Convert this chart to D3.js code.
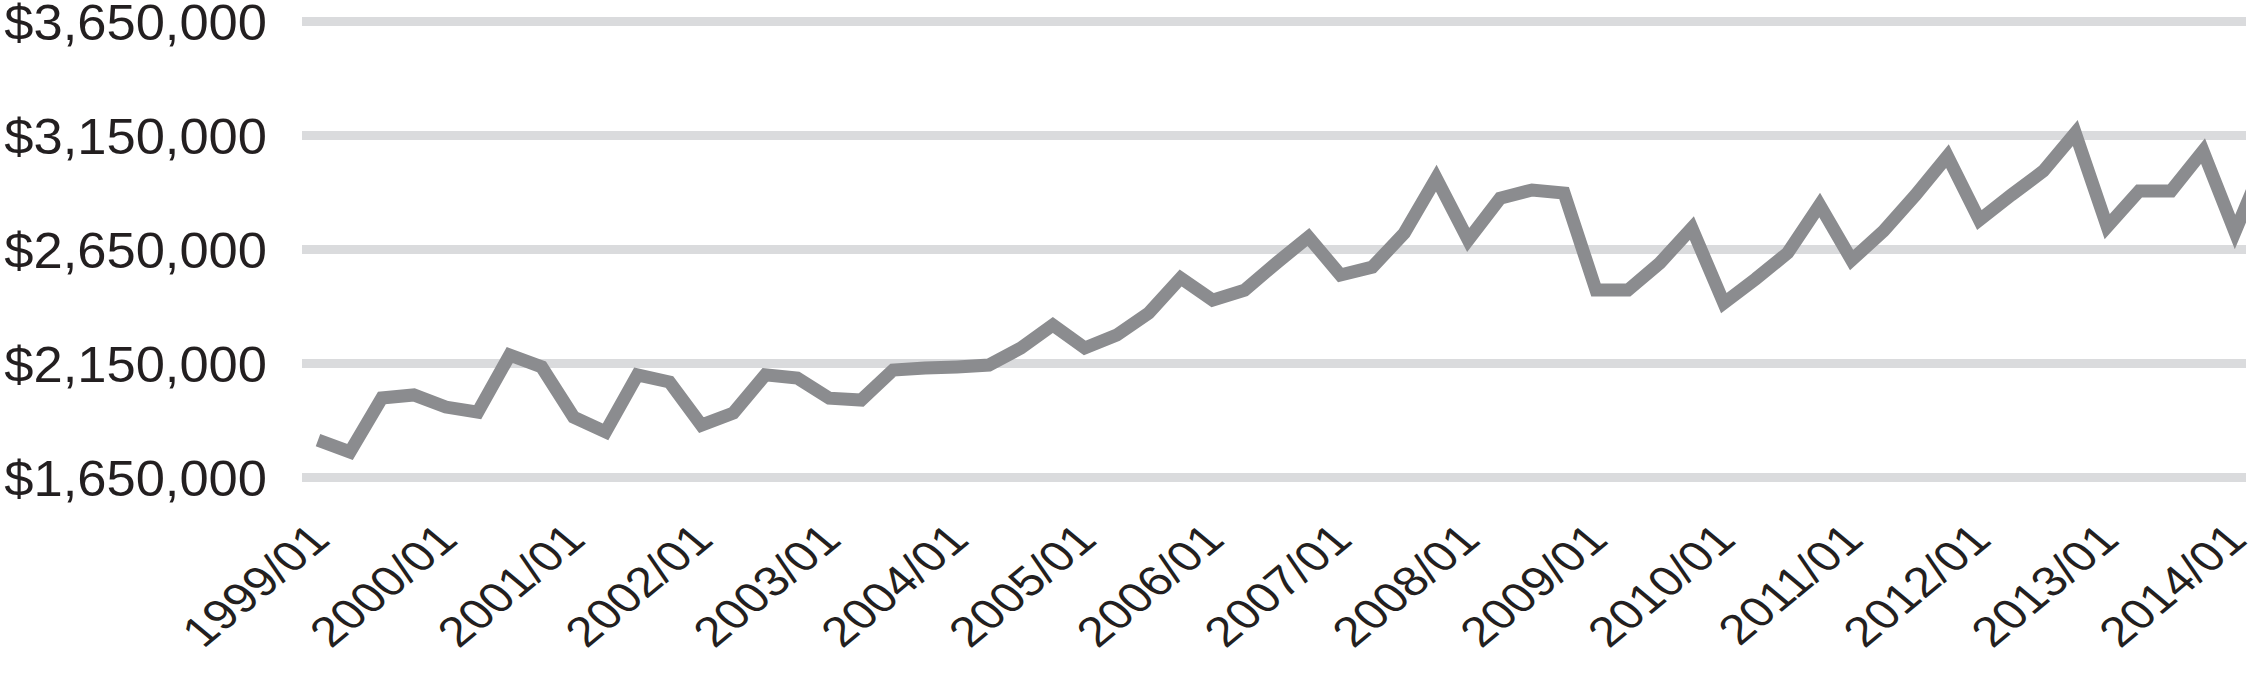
<!DOCTYPE html>
<html>
    <head>
        <title>Quarterly value 1999-2014</title>
        <meta charset="UTF-8">
        <script src="https://cdnjs.cloudflare.com/ajax/libs/d3/7.9.0/d3.min.js"></script>
        <style>
            html, body {
                margin: 0;
                padding: 0;
                background: #fff;
                font-family: "Liberation Sans", Arial, Helvetica, sans-serif;
            }
            .chart {
                width: 2266px;
                height: 690px;
            }
        </style>
    </head>
    <body>
        <div class="chart"></div>
        <script>
            // quarterly values, 1999 Q1 .. 2014 Q2 (last one runs off the plot)
            let values = [
                1814000, 1762000, 1999000, 2012000,
                1959000, 1937000, 2187000, 2135000,
                1915000, 1850000, 2100000, 2069000,
                1880000, 1933000, 2100000, 2086000,
                1998000, 1990000, 2121000, 2130000,
                2135000, 2143000, 2218000, 2319000,
                2218000, 2275000, 2371000, 2525000,
                2428000, 2472000, 2591000, 2705000,
                2538000, 2573000, 2722000, 2963000,
                2692000, 2875000, 2911000, 2898000,
                2472000, 2472000, 2591000, 2744000,
                2415000, 2521000, 2635000, 2845000,
                2604000, 2731000, 2889000, 3060000,
                2779000, 2889000, 2994000, 3161000,
                2750000, 2907000, 2907000, 3082000,
                2727000, 3060000
            ];
            let xLabels = [
                '1999/01', '2000/01', '2001/01', '2002/01', '2003/01',
                '2004/01', '2005/01', '2006/01', '2007/01', '2008/01',
                '2009/01', '2010/01', '2011/01', '2012/01', '2013/01',
                '2014/01'
            ];
            let yTicks = [1650000, 2150000, 2650000, 3150000, 3650000];

            function render(selector){
                let w = 2266;
                let h = 690;
                let plot = {left: 302, right: 2246, top: 21.5, bottom: 477.5};

                let svg = d3.select(selector).append("svg")
                        .attr("width", w)
                        .attr("height", h);

                svg.append("defs").append("clipPath")
                        .attr("id", "plotclip")
                        .append("rect")
                        .attr("x", plot.left)
                        .attr("y", 0)
                        .attr("width", plot.right - plot.left)
                        .attr("height", h);

                let x = d3.scaleLinear()
                        .domain([0, 60])
                        .range([318, 2235]);

                let y = d3.scaleLinear()
                        .domain([1650000, 3650000])
                        .range([plot.bottom, plot.top]);

                // gridlines
                svg.append("g")
                    .selectAll("line")
                    .data(yTicks)
                    .join("line")
                    .attr("x1", plot.left)
                    .attr("x2", plot.right)
                    .attr("y1", d => y(d))
                    .attr("y2", d => y(d))
                    .attr("stroke", "#dadbdd")
                    .attr("stroke-width", 9);

                // y labels
                let fmt = d3.format(",");
                svg.append("g")
                    .selectAll("text")
                    .data(yTicks)
                    .join("text")
                    .attr("transform", d => "translate(267," + y(d) + ") scale(1.05,1)")
                    .attr("text-anchor", "end")
                    .attr("dy", "0.36em")
                    .attr("fill", "#231f20")
                    .style("font-size", "50px")
                    .text(d => "$" + fmt(d));

                // x labels, one per year (source picture is a bit widened)
                svg.append("g")
                    .selectAll("text")
                    .data(xLabels)
                    .join("text")
                    .attr("transform", (d, i) => "translate(" + (x(i * 4) + 14) + ",542) scale(1.2,1) rotate(-45)")
                    .attr("text-anchor", "end")
                    .attr("fill", "#231f20")
                    .style("font-size", "42px")
                    .text(d => d);

                let line = d3.line()
                        .x((d, i) => x(i))
                        .y(d => y(d));

                svg.append("path")
                    .datum(values)
                    .attr("clip-path", "url(#plotclip)")
                    .attr("fill", "none")
                    .attr("stroke", "#8b8c8f")
                    .attr("stroke-width", 13)
                    .attr("stroke-linejoin", "miter")
                    .attr("d", line);
            }

            render('.chart');
        </script>
    </body>
</html>
